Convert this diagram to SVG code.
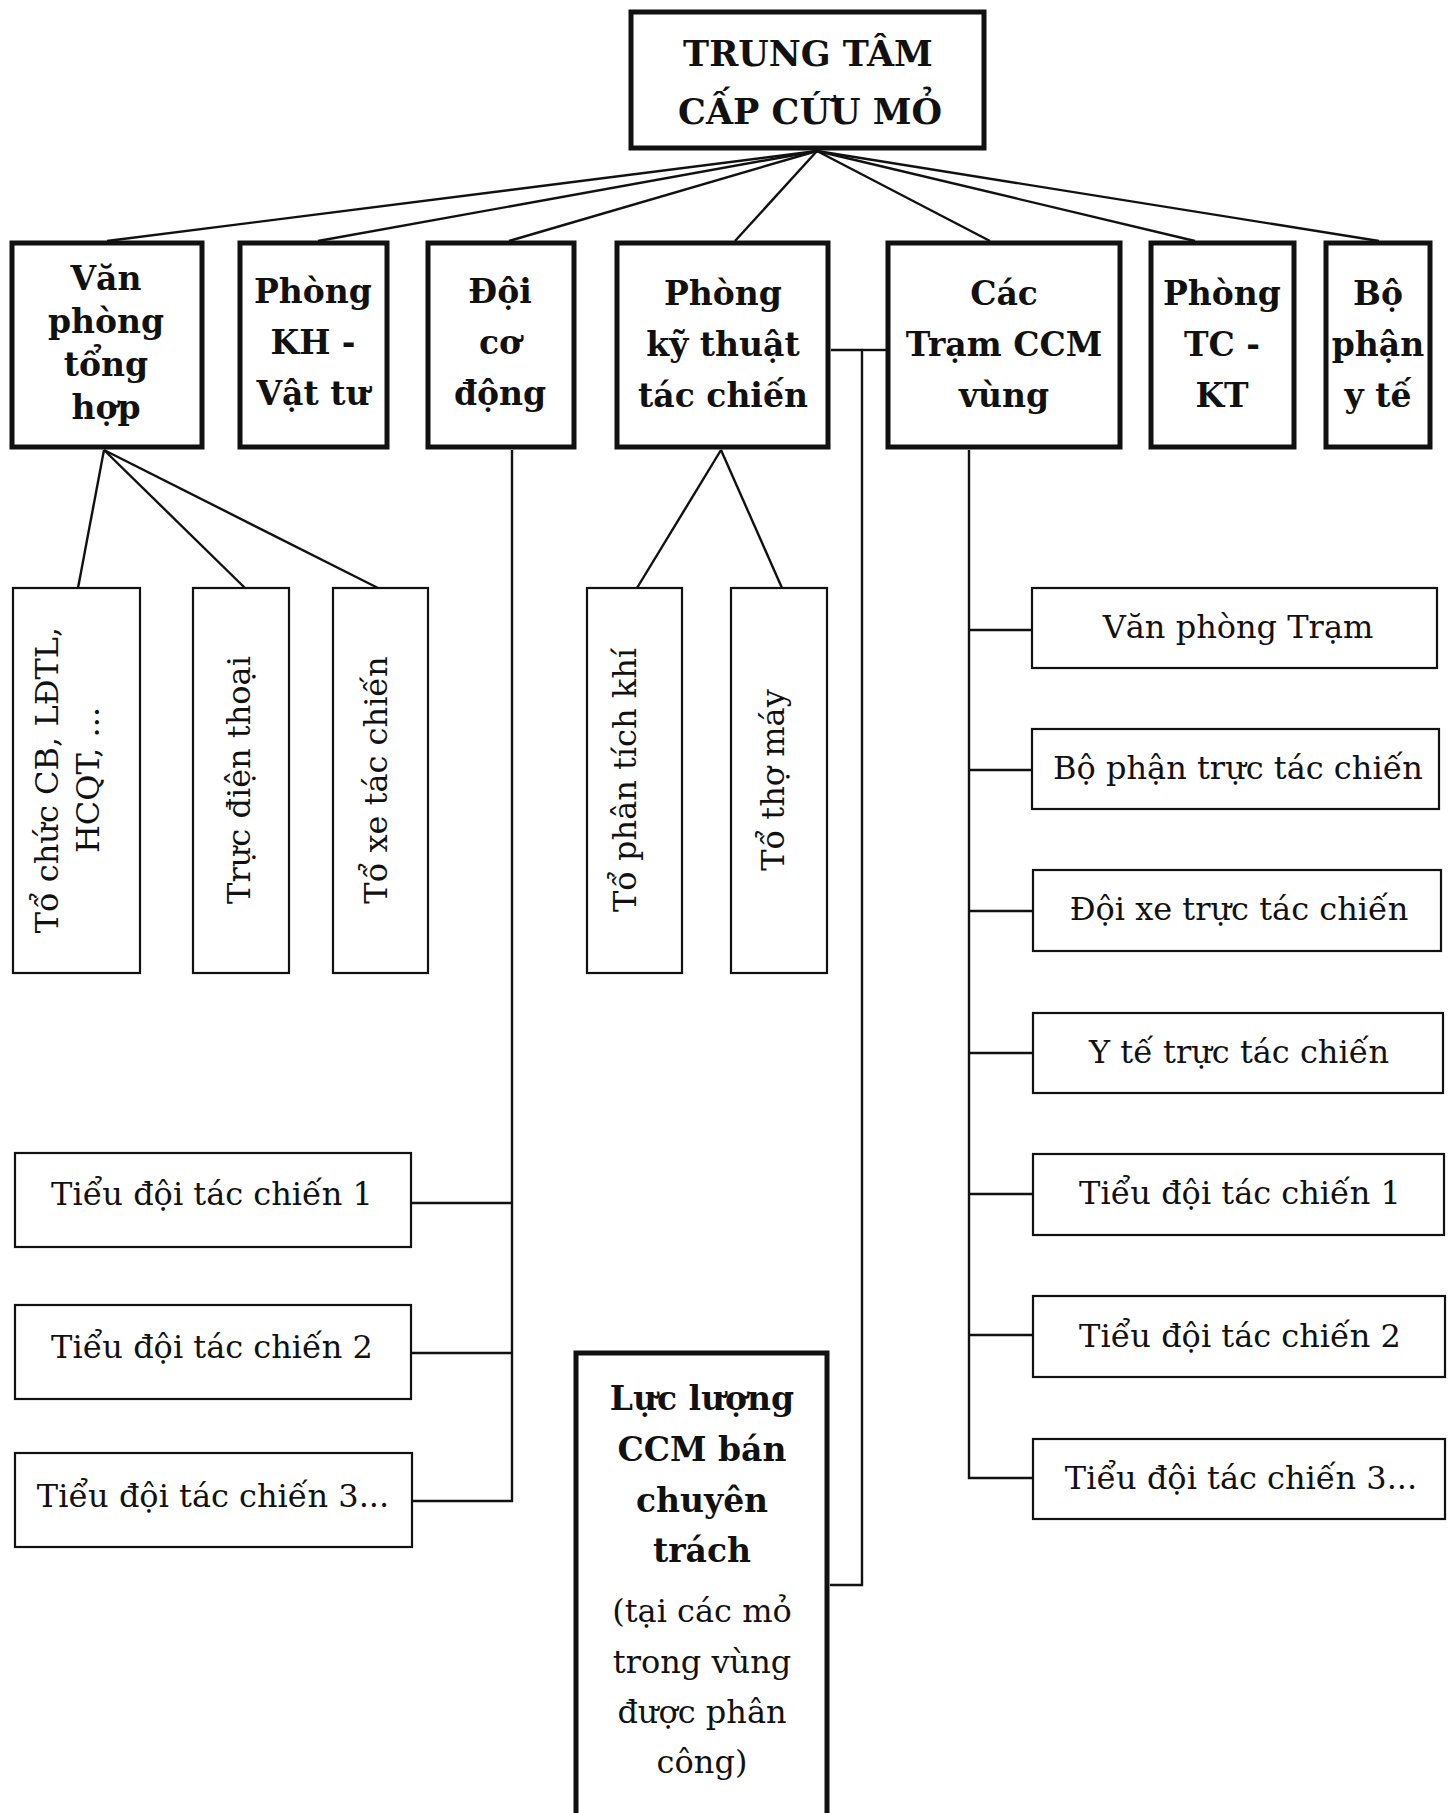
<svg xmlns="http://www.w3.org/2000/svg" width="1449" height="1813" viewBox="0 0 1449 1813">
<style>
.bg{fill:#ffffff}
.thick{fill:#ffffff;stroke:#111;stroke-width:5}
.thin{fill:#ffffff;stroke:#111;stroke-width:2.2}
.con{fill:none;stroke:#111;stroke-width:2.4}
.tb{font-family:"DejaVu Serif","Liberation Serif",serif;font-weight:bold;font-size:33px;fill:#111;text-anchor:middle}
.tt{font-family:"DejaVu Serif","Liberation Serif",serif;font-weight:bold;font-size:35px;fill:#111;text-anchor:middle}
.tn{font-family:"DejaVu Serif","Liberation Serif",serif;font-size:32px;fill:#111;text-anchor:middle}
</style>
<rect class="bg" x="0" y="0" width="1449" height="1813"/>
<g id="connectors">
<line class="con" x1="817" y1="151" x2="107" y2="241"/>
<line class="con" x1="817" y1="151" x2="318" y2="241"/>
<line class="con" x1="817" y1="151" x2="509" y2="241"/>
<line class="con" x1="817" y1="151" x2="735" y2="241"/>
<line class="con" x1="817" y1="151" x2="990" y2="241"/>
<line class="con" x1="817" y1="151" x2="1195" y2="241"/>
<line class="con" x1="817" y1="151" x2="1379" y2="241"/>
<line class="con" x1="104" y1="450" x2="78" y2="588"/>
<line class="con" x1="104" y1="450" x2="245" y2="588"/>
<line class="con" x1="104" y1="450" x2="378" y2="588"/>
<line class="con" x1="721" y1="450" x2="637" y2="588"/>
<line class="con" x1="721" y1="450" x2="782" y2="588"/>
<polyline class="con" points="512,450 512,1501 411,1501"/>
<line class="con" x1="411" y1="1203" x2="512" y2="1203"/>
<line class="con" x1="411" y1="1353" x2="512" y2="1353"/>
<polyline class="con" points="831,350 862,350 862,1585 830,1585"/>
<line class="con" x1="862" y1="350" x2="886" y2="350"/>
<polyline class="con" points="969,450 969,1478 1033,1478"/>
<line class="con" x1="969" y1="630" x2="1032" y2="630"/>
<line class="con" x1="969" y1="770" x2="1032" y2="770"/>
<line class="con" x1="969" y1="911" x2="1033" y2="911"/>
<line class="con" x1="969" y1="1053" x2="1033" y2="1053"/>
<line class="con" x1="969" y1="1194" x2="1033" y2="1194"/>
<line class="con" x1="969" y1="1335" x2="1033" y2="1335"/>
</g>
<g id="n-top">
<rect class="thick" x="631" y="12" width="353" height="136"/>
<text class="tt" x="808" y="66">TRUNG TÂM</text>
<text class="tt" x="810" y="124">CẤP CỨU MỎ</text>
</g>
<g id="n-vanphong">
<rect class="thick" x="12" y="243" width="190" height="204"/>
<text class="tb" x="106" y="290">Văn</text>
<text class="tb" x="106" y="333">phòng</text>
<text class="tb" x="106" y="376">tổng</text>
<text class="tb" x="106" y="419">hợp</text>
</g>
<g id="n-khvattu">
<rect class="thick" x="240" y="243" width="147" height="204"/>
<text class="tb" x="313" y="303">Phòng</text>
<text class="tb" x="313" y="354">KH -</text>
<text class="tb" x="313" y="405">Vật tư</text>
</g>
<g id="n-doicodong">
<rect class="thick" x="428" y="243" width="146" height="204"/>
<text class="tb" x="500" y="303">Đội</text>
<text class="tb" x="500" y="354">cơ</text>
<text class="tb" x="500" y="405">động</text>
</g>
<g id="n-kythuat">
<rect class="thick" x="617" y="243" width="211" height="204"/>
<text class="tb" x="723" y="305">Phòng</text>
<text class="tb" x="723" y="356">kỹ thuật</text>
<text class="tb" x="723" y="407">tác chiến</text>
</g>
<g id="n-tram">
<rect class="thick" x="888" y="243" width="232" height="204"/>
<text class="tb" x="1004" y="305">Các</text>
<text class="tb" x="1004" y="356">Trạm CCM</text>
<text class="tb" x="1004" y="407">vùng</text>
</g>
<g id="n-tckt">
<rect class="thick" x="1151" y="243" width="143" height="204"/>
<text class="tb" x="1222" y="305">Phòng</text>
<text class="tb" x="1222" y="356">TC -</text>
<text class="tb" x="1222" y="407">KT</text>
</g>
<g id="n-yte">
<rect class="thick" x="1326" y="243" width="104" height="204"/>
<text class="tb" x="1378" y="305">Bộ</text>
<text class="tb" x="1378" y="356">phận</text>
<text class="tb" x="1378" y="407">y tế</text>
</g>
<g id="n-tochuc">
<rect class="thin" x="13" y="588" width="127" height="385"/>
<text class="tn" transform="translate(58,780) rotate(-90)">Tổ chức CB, LĐTL,</text>
<text class="tn" transform="translate(99,780) rotate(-90)">HCQT, ...</text>
</g>
<g id="n-trucdienthoai">
<rect class="thin" x="193" y="588" width="96" height="385"/>
<text class="tn" transform="translate(250,780) rotate(-90)">Trực điện thoại</text>
</g>
<g id="n-toxe">
<rect class="thin" x="333" y="588" width="95" height="385"/>
<text class="tn" transform="translate(387,780) rotate(-90)">Tổ xe tác chiến</text>
</g>
<g id="n-phantich">
<rect class="thin" x="587" y="588" width="95" height="385"/>
<text class="tn" transform="translate(636,780) rotate(-90)">Tổ phân tích khí</text>
</g>
<g id="n-thomay">
<rect class="thin" x="731" y="588" width="96" height="385"/>
<text class="tn" transform="translate(784,780) rotate(-90)">Tổ thợ máy</text>
</g>
<g id="n-left1">
<rect class="thin" x="15" y="1153" width="396" height="94"/>
<text class="tn" x="212" y="1205">Tiểu đội tác chiến 1</text>
</g>
<g id="n-left2">
<rect class="thin" x="15" y="1305" width="396" height="94"/>
<text class="tn" x="212" y="1358">Tiểu đội tác chiến 2</text>
</g>
<g id="n-left3">
<rect class="thin" x="15" y="1453" width="397" height="94"/>
<text class="tn" x="213" y="1507">Tiểu đội tác chiến 3...</text>
</g>
<g id="n-lucluong">
<rect class="thick" x="576" y="1353" width="251" height="500"/>
<text class="tb" x="702" y="1410">Lực lượng</text>
<text class="tb" x="702" y="1461">CCM bán</text>
<text class="tb" x="702" y="1512">chuyên</text>
<text class="tb" x="702" y="1562">trách</text>
<text class="tn" x="702" y="1622">(tại các mỏ</text>
<text class="tn" x="702" y="1673">trong vùng</text>
<text class="tn" x="702" y="1723">được phân</text>
<text class="tn" x="702" y="1773">công)</text>
</g>
<g id="n-r1">
<rect class="thin" x="1032" y="588" width="405" height="80"/>
<text class="tn" x="1238" y="638">Văn phòng Trạm</text>
</g>
<g id="n-r2">
<rect class="thin" x="1032" y="729" width="407" height="80"/>
<text class="tn" x="1238" y="779">Bộ phận trực tác chiến</text>
</g>
<g id="n-r3">
<rect class="thin" x="1033" y="870" width="408" height="81"/>
<text class="tn" x="1239" y="920">Đội xe trực tác chiến</text>
</g>
<g id="n-r4">
<rect class="thin" x="1033" y="1013" width="410" height="80"/>
<text class="tn" x="1239" y="1063">Y tế trực tác chiến</text>
</g>
<g id="n-r5">
<rect class="thin" x="1033" y="1154" width="411" height="81"/>
<text class="tn" x="1240" y="1204">Tiểu đội tác chiến 1</text>
</g>
<g id="n-r6">
<rect class="thin" x="1033" y="1296" width="412" height="81"/>
<text class="tn" x="1240" y="1347">Tiểu đội tác chiến 2</text>
</g>
<g id="n-r7">
<rect class="thin" x="1033" y="1439" width="412" height="80"/>
<text class="tn" x="1241" y="1489">Tiểu đội tác chiến 3...</text>
</g>
</svg>
